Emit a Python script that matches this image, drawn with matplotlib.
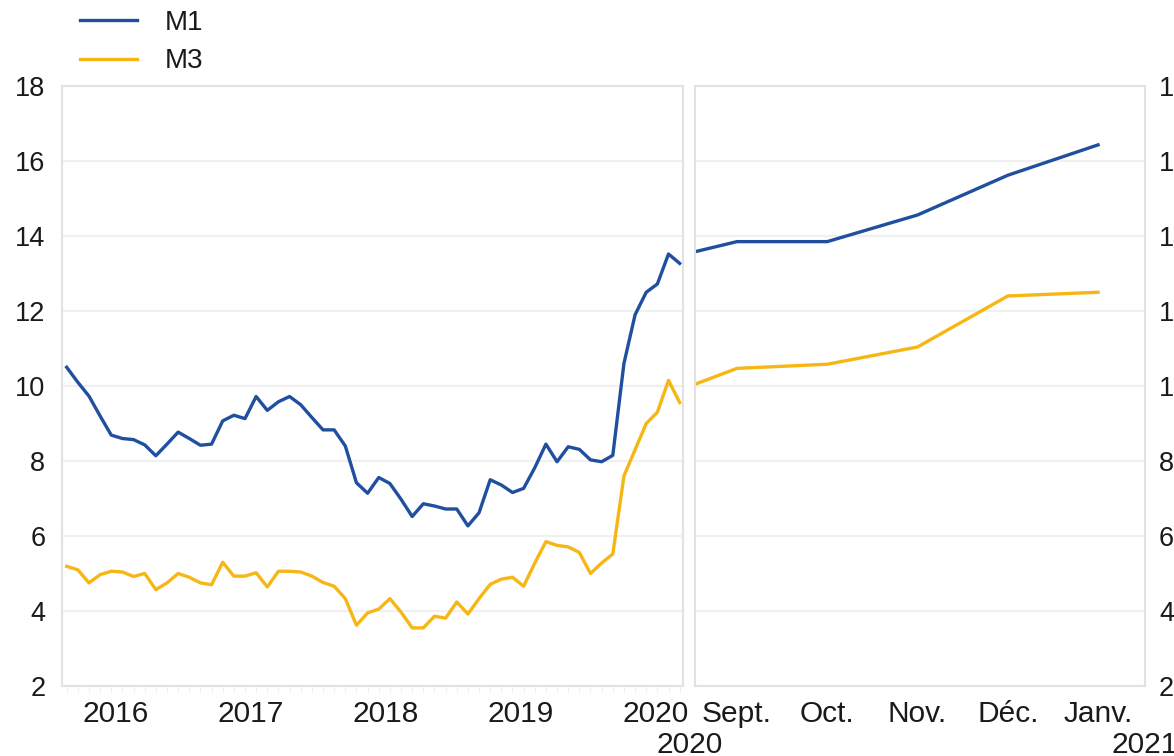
import numpy as np
import matplotlib
matplotlib.use("Agg")
import matplotlib.pyplot as plt

plt.rcParams['font.family'] = ['Liberation Sans', 'DejaVu Sans']

# -----------------------------
# Data: monthly growth, Jan 2016 - Aug 2020 (left panel)
# -----------------------------
m1 = [10.5, 10.1, 9.73, 9.2, 8.69, 8.6, 8.57, 8.43, 8.14, 8.45, 8.77, 8.6,
      8.42, 8.45, 9.07, 9.22, 9.13, 9.72, 9.35, 9.58, 9.72, 9.5, 9.16, 8.83,
      8.83, 8.4, 7.42, 7.14, 7.56, 7.4, 6.98, 6.52, 6.86, 6.8, 6.72, 6.72,
      6.27, 6.62, 7.5, 7.36, 7.16, 7.27, 7.82, 8.45, 7.98, 8.38, 8.31, 8.03,
      7.98, 8.15, 10.6, 11.9, 12.5, 12.72, 13.52, 13.27]
m3 = [5.19, 5.1, 4.75, 4.97, 5.06, 5.04, 4.92, 5.0, 4.57, 4.75, 5.0, 4.9,
      4.75, 4.7, 5.3, 4.93, 4.93, 5.02, 4.64, 5.06, 5.06, 5.04, 4.93, 4.76,
      4.66, 4.33, 3.62, 3.95, 4.05, 4.33, 3.97, 3.55, 3.55, 3.86, 3.81, 4.24,
      3.92, 4.33, 4.71, 4.85, 4.9, 4.66, 5.28, 5.85, 5.75, 5.71, 5.56, 5.0,
      5.28, 5.52, 7.6, 8.3, 9.0, 9.3, 10.15, 9.56]
years = ["2016", "2017", "2018", "2019", "2020"]

# Right panel: Aug 2020 - Jan 2021
recent_labels = ["Sept.", "Oct.", "Nov.", "Déc.", "Janv."]
m1_recent = [m1[-1], 13.85, 13.85, 14.56, 15.62, 16.43]
m3_recent = [m3[-1], 10.47, 10.58, 11.04, 12.4, 12.5]

blue = "#1f4f9e"
yellow = "#f6b715"
box = "#e2e2e2"
grid = "#f0f0f0"
txt = "#1a1a1a"
xfs = 21.5

fig = plt.figure(figsize=(11.74, 7.56), dpi=100)
W, H = 1174, 756
ax1 = fig.add_axes([62 / W, 1 - 686 / H, 621 / W, 600 / H])
ax2 = fig.add_axes([695 / W, 1 - 686 / H, 450 / W, 600 / H])

for ax in (ax1, ax2):
    ax.set_ylim(2, 18)
    ax.set_yticks(range(2, 19, 2))
    ax.grid(axis="y", color=grid, linewidth=1.5)
    ax.set_axisbelow(True)
    for s in ax.spines.values():
        s.set_color(box)
        s.set_linewidth(1.5)
    ax.tick_params(axis="y", length=0, labelsize=19.5, labelcolor=txt)
    ax.tick_params(axis="x", which="major", length=0, pad=10, labelcolor=txt)

# left panel
x = np.arange(len(m1))
l1, = ax1.plot(x, m1, color=blue, linewidth=2.4, label="M1")
l2, = ax1.plot(x, m3, color=yellow, linewidth=2.4, label="M3")
ax1.set_xlim(-0.42, 55.3)
ax1.set_xticks([4.4 + 12.1 * k for k in range(len(years))])
ax1.set_xticklabels(years, fontsize=xfs)
ax1.set_xticks(x, minor=True)
ax1.tick_params(axis="x", which="minor", length=4, color="#ececec")
ax1.tick_params(axis="y", pad=12)

# right panel
xr = np.arange(len(m1_recent))
ax2.plot(xr, m1_recent, color=blue, linewidth=2.4)
ax2.plot(xr, m3_recent, color=yellow, linewidth=2.4)
ax2.set_xlim(0.535, 5.52)
ax2.set_xticks(xr[1:])
ax2.set_xticklabels(recent_labels, fontsize=xfs)
ax2.yaxis.tick_right()
ax2.tick_params(axis="y", pad=10)

fig.text(690 / W, 1 - 745 / H, "2020", fontsize=xfs,
         color=txt, ha="center", va="center")
fig.text(1145 / W, 1 - 745 / H, "2021", fontsize=xfs,
         color=txt, ha="center", va="center")

fig.legend(handles=[l1, l2], loc="upper left",
           bbox_to_anchor=(80 / W, 1 - 10 / H), frameon=False,
           fontsize=20, handlelength=2.05, handletextpad=1.0,
           labelspacing=0.45, borderpad=0, borderaxespad=0, labelcolor=txt)

fig.savefig("out.png", dpi=100)
